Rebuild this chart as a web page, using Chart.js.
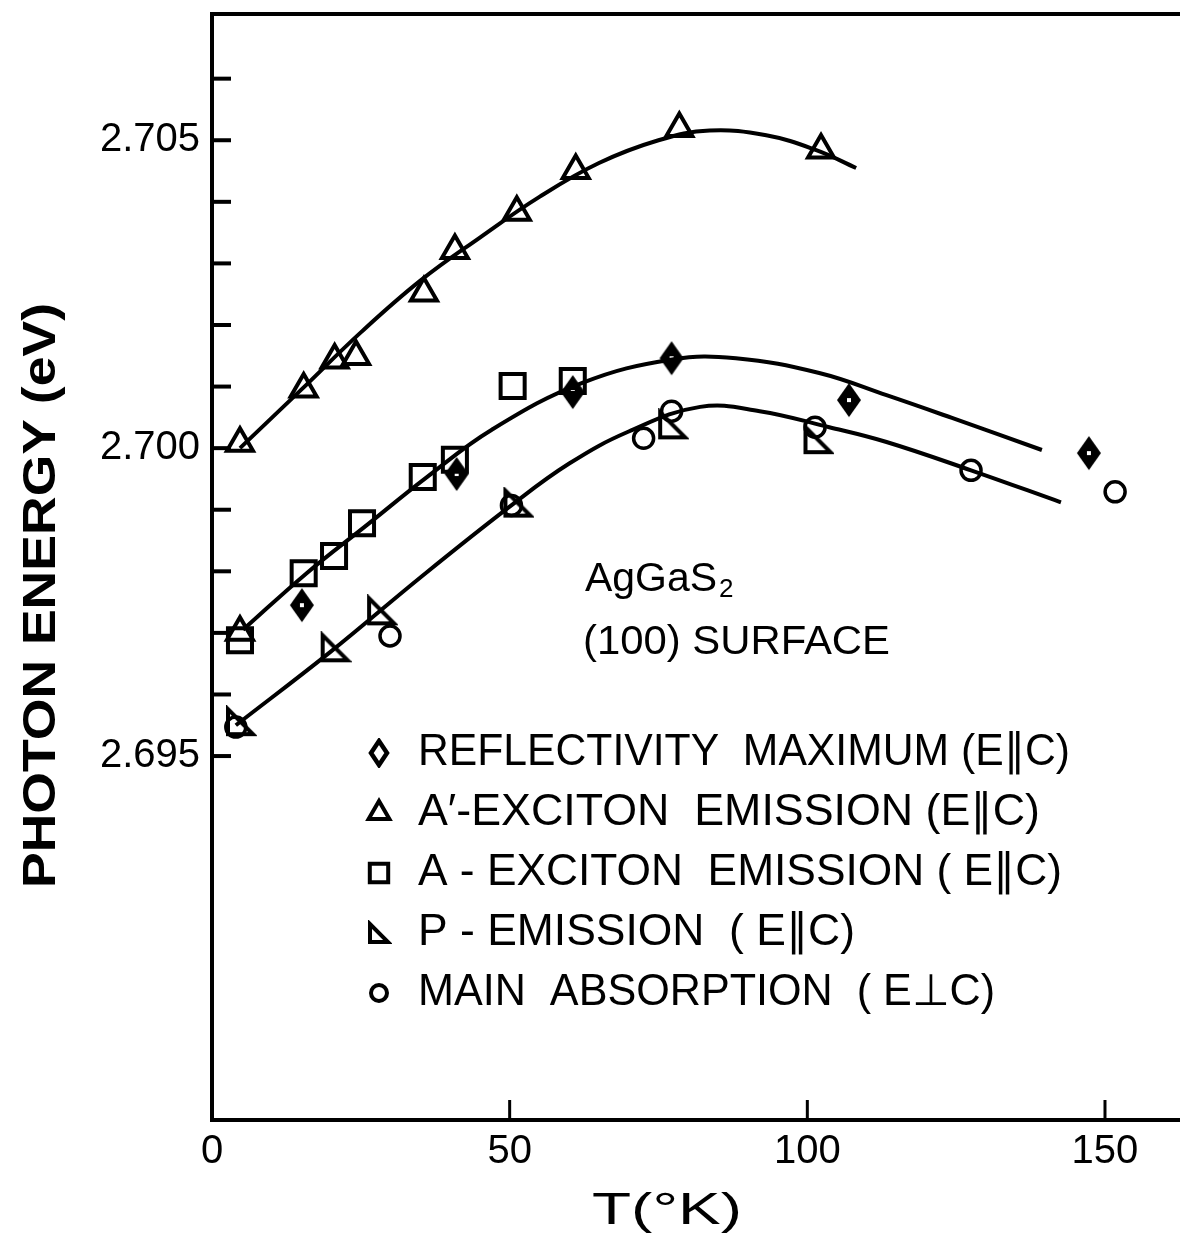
<!DOCTYPE html>
<html>
<head>
<meta charset="utf-8">
<script src="https://cdn.jsdelivr.net/npm/chart.js@4.4.0/dist/chart.umd.min.js"></script>
<style>
  html, body { margin: 0; padding: 0; background: #fff; }
  #wrap { width: 1180px; height: 1239px; }
</style>
</head>
<body>
<div id="wrap"><canvas id="chart" width="1180" height="1239"></canvas></div>
<script>
/*
DATA
*/
// A'-exciton emission (E || c), open triangles
const aPrimeT = [4.7, 15.4, 20.6, 24.2, 35.6, 40.8, 51.2, 61.1, 78.5, 102.3, 4.7];
const aPrimeE = [2.70008, 2.70096, 2.70143, 2.70149, 2.70252, 2.70321, 2.70383, 2.70451, 2.70519, 2.70484, 2.69701];

// A-exciton emission (E || c), open squares
const aExcT = [4.7, 15.4, 20.5, 25.2, 35.4, 40.8, 50.5, 60.6];
const aExcE = [2.69688, 2.69797, 2.69825, 2.69878, 2.69953, 2.69981, 2.70101, 2.70109];

// reflectivity maximum (E || c), diamonds
const reflT = [15.1, 41.1, 60.6, 77.2, 107.0, 147.3];
const reflE = [2.69745, 2.69958, 2.70091, 2.70146, 2.70078, 2.69992];

// P-emission (E || c), right triangles
const pEmT = [4.7, 20.6, 28.4, 51.3, 77.3, 101.7];
const pEmE = [2.69555, 2.69675, 2.69735, 2.69910, 2.70037, 2.70013];

// main absorption (E _|_ c), open circles
const absT = [4.0, 29.9, 50.3, 72.5, 77.2, 101.3, 127.5, 151.7];
const absE = [2.69547, 2.69695, 2.69907, 2.70016, 2.70060, 2.70034, 2.69964, 2.69929];

// hand drawn curves through the points
const upperCurveT = [4.7, 15.0, 25.0, 35.0, 45.0, 55.0, 65.0, 75.0, 83.6, 93.1, 101.5, 108.2];
const upperCurveE = [2.70000, 2.70095, 2.70188, 2.70272, 2.70342, 2.70408, 2.70463, 2.70500, 2.70516, 2.70508, 2.70484, 2.70455];

const midCurveT = [5.2, 15.9, 26.0, 36.1, 47.0, 62.2, 77.3, 88.0, 102.0, 113.3, 124.3, 139.4];
const midCurveE = [2.69705, 2.69797, 2.69875, 2.69953, 2.70030, 2.70106, 2.70144, 2.70146, 2.70122, 2.70086, 2.70049, 2.69997];

const lowCurveT = [4.0, 20.0, 35.0, 50.0, 60.0, 70.0, 82.0, 92.0, 103.7, 113.3, 127.5, 142.6];
const lowCurveE = [2.69550, 2.69670, 2.69790, 2.69905, 2.69975, 2.70027, 2.70067, 2.70060, 2.70034, 2.70010, 2.69964, 2.69912];

// axes
const xTicks = [0, 50, 100, 150];
const yTicks = [2.695, 2.696, 2.697, 2.698, 2.699, 2.700, 2.701, 2.702, 2.703, 2.704, 2.705, 2.706];
const yLabelled = [2.695, 2.700, 2.705];

const legendLabels = [
  'REFLECTIVITY  MAXIMUM (E\u2225C)',
  'A\u2032-EXCITON  EMISSION (E\u2225C)',
  'A - EXCITON  EMISSION ( E\u2225C)',
  'P - EMISSION  ( E\u2225C)',
  'MAIN  ABSORPTION  ( E\u22a5C)'
];

const FONT = '"Liberation Sans", "DejaVu Sans", sans-serif';

function pts(xs, ys) {
  return xs.map((v, i) => ({x: v, y: ys[i]}));
}

function makeCanvas(w, h, draw) {
  const c = document.createElement('canvas');
  c.width = w;
  c.height = h;
  draw(c.getContext('2d'));
  return c;
}

//marker images
const diamondImg = makeCanvas(26, 36, g => {
  g.beginPath();
  g.moveTo(13, 1); g.lineTo(25, 18); g.lineTo(13, 35); g.lineTo(1, 18);
  g.closePath();
  g.fillStyle = '#000';
  g.fill();
  g.fillStyle = '#fff';
  g.fillRect(11, 16, 4, 4);
});
const pTriImg = makeCanvas(34, 34, g => {
  g.lineWidth = 4;
  g.lineJoin = 'miter';
  g.strokeStyle = '#000';
  g.beginPath();
  g.moveTo(5, 4); g.lineTo(5, 29); g.lineTo(30, 29);
  g.closePath();
  g.stroke();
});
const diamondLegImg = makeCanvas(22, 30, g => {
  g.lineWidth = 4.5;
  g.strokeStyle = '#000';
  g.beginPath();
  g.moveTo(11, 3); g.lineTo(19, 15); g.lineTo(11, 27); g.lineTo(3, 15);
  g.closePath();
  g.stroke();
});
const pTriLegImg = makeCanvas(26, 26, g => {
  g.lineWidth = 4;
  g.strokeStyle = '#000';
  g.beginPath();
  g.moveTo(4, 4); g.lineTo(4, 22); g.lineTo(22, 22);
  g.closePath();
  g.stroke();
});

function fitText(ctx, text, x, y, w, font) {
  ctx.font = font;
  const m = ctx.measureText(text).width;
  ctx.save();
  ctx.translate(x, y);
  ctx.scale(w / m, 1);
  ctx.textAlign = 'left';
  ctx.textBaseline = 'middle';
  ctx.fillText(text, 0, 0);
  ctx.restore();
}

//inward tick marks and top frame line
const tickMarks = {
  id: 'tickMarks',
  afterDatasetsDraw(chart) {
    const {ctx, chartArea: a, scales: {x, y}} = chart;
    ctx.save();
    ctx.strokeStyle = '#000';
    ctx.lineWidth = 4;
    y.ticks.forEach(t => {
      const py = y.getPixelForValue(t.value);
      ctx.beginPath();
      ctx.moveTo(a.left, py);
      ctx.lineTo(a.left + 19, py);
      ctx.stroke();
    });
    ctx.lineWidth = 3;
    x.ticks.forEach(t => {
      if (t.value === 0) return;
      const px = x.getPixelForValue(t.value);
      ctx.beginPath();
      ctx.moveTo(px, a.bottom);
      ctx.lineTo(px, a.bottom - 20);
      ctx.stroke();
    });
    ctx.lineWidth = 4;
    ctx.beginPath();
    ctx.moveTo(a.left - 2, a.top);
    ctx.lineTo(a.right, a.top);
    ctx.stroke();
    ctx.restore();
  }
};

//titles, sample label and legend
const textPlugin = {
  id: 'textPlugin',
  afterDraw(chart) {
    const ctx = chart.ctx;
    ctx.save();
    ctx.fillStyle = '#000';

    // y axis title
    ctx.save();
    ctx.translate(42, 888);
    ctx.rotate(-Math.PI / 2);
    fitText(ctx, 'PHOTON ENERGY (eV)', 0, 0, 585, 'bold 46px ' + FONT);
    ctx.restore();

    // x axis title
    fitText(ctx, 'T(\u00b0K)', 592, 1212, 150, '44px ' + FONT);

    // sample
    fitText(ctx, 'AgGaS', 585, 580, 132, '40px ' + FONT);
    ctx.font = '26px ' + FONT;
    ctx.textBaseline = 'middle';
    ctx.textAlign = 'left';
    ctx.fillText('2', 719, 590);
    fitText(ctx, '(100) SURFACE', 583, 643, 307, '40px ' + FONT);

    // legend
    const legY = [753, 813, 873, 933, 993];
    const legW = [652, 622, 644, 437, 577];
    const legSym = [
      {pointStyle: diamondLegImg, radius: 10},
      {pointStyle: 'triangle', radius: 12},
      {pointStyle: 'rect', radius: 13},
      {pointStyle: pTriLegImg, radius: 10},
      {pointStyle: 'circle', radius: 8}
    ];
    legendLabels.forEach((txt, i) => {
      ctx.save();
      ctx.strokeStyle = '#000';
      ctx.fillStyle = 'rgba(0,0,0,0)';
      ctx.lineWidth = 4;
      Chart.helpers.drawPoint(ctx, {pointStyle: legSym[i].pointStyle, radius: legSym[i].radius, borderWidth: 4, rotation: 0}, 379, legY[i]);
      ctx.restore();
      ctx.fillStyle = '#000';
      fitText(ctx, txt, 418, legY[i], legW[i], '44px ' + FONT);
    });
    ctx.restore();
  }
};

const lineStyle = {
  showLine: true,
  borderColor: '#000',
  borderWidth: 4,
  pointRadius: 0,
  tension: 0.4
};

const markerStyle = {
  showLine: false,
  pointBorderColor: '#000',
  pointBackgroundColor: 'rgba(0,0,0,0)'
};

let chart = new Chart(document.getElementById('chart'), {
  type: 'scatter',
  data: {
    datasets: [
      Object.assign({label: 'upper curve', data: pts(upperCurveT, upperCurveE)}, lineStyle),
      Object.assign({label: 'middle curve', data: pts(midCurveT, midCurveE)}, lineStyle),
      Object.assign({label: 'lower curve', data: pts(lowCurveT, lowCurveE)}, lineStyle),
      Object.assign({label: 'A\u2032-exciton emission', data: pts(aPrimeT, aPrimeE),
        pointStyle: 'triangle', pointRadius: 15, pointBorderWidth: 4}, markerStyle),
      Object.assign({label: 'A-exciton emission', data: pts(aExcT, aExcE),
        pointStyle: 'rect', pointRadius: 17, pointBorderWidth: 4}, markerStyle),
      Object.assign({label: 'P-emission', data: pts(pEmT, pEmE),
        pointStyle: pTriImg, pointRadius: 14, pointBorderWidth: 0}, markerStyle),
      Object.assign({label: 'main absorption', data: pts(absT, absE),
        pointStyle: 'circle', pointRadius: 10, pointBorderWidth: 3.5}, markerStyle),
      Object.assign({label: 'reflectivity maximum', data: pts(reflT, reflE),
        pointStyle: diamondImg, pointRadius: 14, pointBorderWidth: 0}, markerStyle)
    ]
  },
  options: {
    responsive: false,
    animation: false,
    devicePixelRatio: 1,
    layout: {autoPadding: false, padding: {top: 14, right: 0, left: 0, bottom: 0}},
    plugins: {
      legend: {display: false},
      tooltip: {enabled: false}
    },
    scales: {
      x: {
        type: 'linear',
        min: 0,
        max: 162.6,
        afterBuildTicks: s => { s.ticks = xTicks.map(v => ({value: v})); },
        afterFit: s => { s.height = 119; s.paddingLeft = 0; s.paddingRight = 0; },
        grid: {display: false, drawTicks: false},
        border: {display: true, color: '#000', width: 4},
        ticks: {
          color: '#000',
          padding: 8,
          maxRotation: 0,
          font: {family: FONT, size: 40},
          callback: v => String(v)
        }
      },
      y: {
        type: 'linear',
        min: 2.68909,
        max: 2.70705,
        afterBuildTicks: s => { s.ticks = yTicks.map(v => ({value: v})); },
        afterFit: s => { s.width = 212; s.paddingTop = 0; s.paddingBottom = 0; },
        grid: {display: false, drawTicks: false},
        border: {display: true, color: '#000', width: 4},
        ticks: {
          color: '#000',
          padding: 12,
          font: {family: FONT, size: 40},
          callback: v => yLabelled.some(l => Math.abs(l - v) < 1e-7) ? v.toFixed(3) : ''
        }
      }
    }
  },
  plugins: [tickMarks, textPlugin]
});
</script>
</body>
</html>
